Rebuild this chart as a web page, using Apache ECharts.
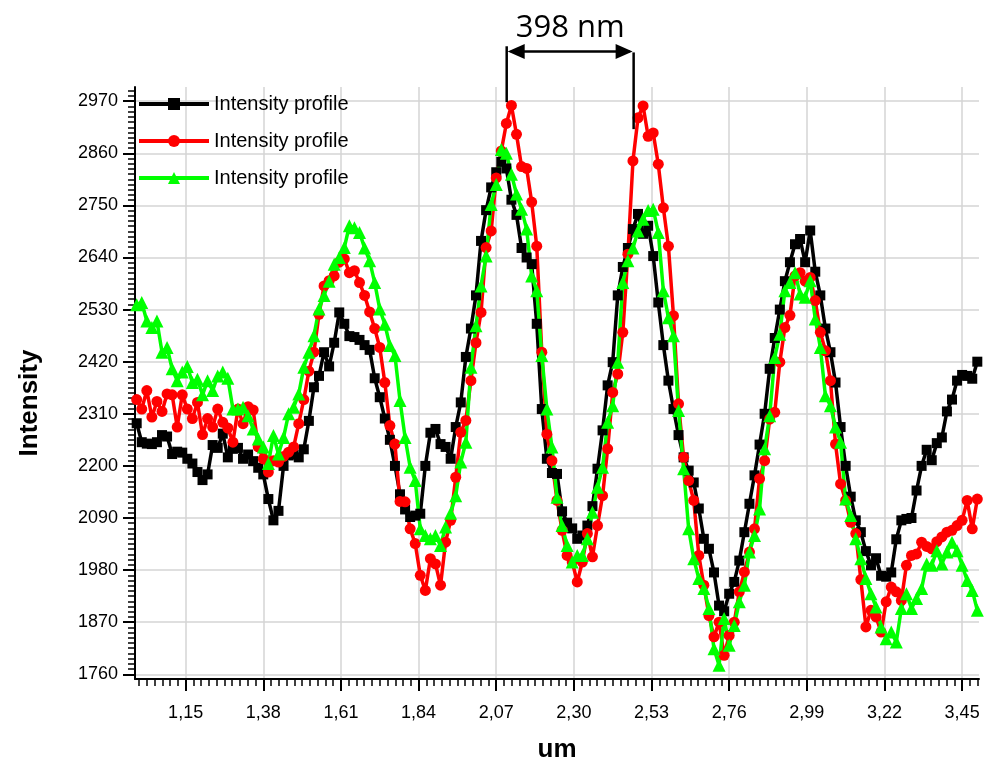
<!DOCTYPE html>
<html>
<head>
<meta charset="utf-8">
<script src="https://cdn.jsdelivr.net/npm/echarts@6/dist/echarts.min.js"></script>
<style>
html, body { margin: 0; padding: 0; background: #fff; }
#profile-chart-box { width: 988px; height: 766px; }
</style>
</head>
<body>
<div id="profile-chart-box"></div>
<script>
// profile sampling (um): one sample every xStep from xStart
var xStart = 1.005;
var xStep = 0.015;

var blackY = [2290, 2250, 2247, 2246, 2250, 2265, 2262, 2225, 2230, 2228,
    2215, 2205, 2187, 2170, 2182, 2244, 2238, 2268, 2218, 2236,
    2238, 2215, 2224, 2210, 2196, 2182, 2130, 2085, 2105, 2200,
    2222, 2224, 2218, 2235, 2295, 2366, 2390, 2440, 2410, 2460,
    2524, 2500, 2474, 2472, 2466, 2455, 2445, 2385, 2345, 2300,
    2255, 2200, 2140, 2108, 2092, 2095, 2099, 2200, 2270, 2278,
    2246, 2240, 2215, 2282, 2334, 2430, 2490, 2560, 2675, 2740,
    2788, 2820, 2842, 2828, 2762, 2730, 2660, 2640, 2626, 2500,
    2320, 2215, 2185, 2183, 2104, 2080, 2068, 2046, 2053, 2074,
    2115, 2194, 2275, 2370, 2419, 2560, 2620, 2660, 2700, 2732,
    2690, 2707, 2643, 2545, 2455, 2380, 2320, 2265, 2218, 2190,
    2165, 2110, 2046, 2025, 1975, 1905, 1893, 1930, 1955, 2000,
    2060, 2120, 2180, 2245, 2310, 2405, 2470, 2530, 2590, 2630,
    2668, 2679, 2630, 2697, 2610, 2560, 2490, 2440, 2376, 2282,
    2200, 2135, 2085, 2060, 2020, 1990, 2005, 1968, 1966, 1975,
    2045, 2085, 2088, 2090, 2148, 2200, 2234, 2212, 2248, 2260,
    2315, 2340, 2380, 2392, 2390, 2384, 2420];

var redY = [2340, 2320, 2359, 2303, 2336, 2315, 2352, 2350, 2282, 2350,
    2320, 2300, 2334, 2266, 2300, 2282, 2320, 2292, 2280, 2250,
    2320, 2289, 2325, 2318, 2240, 2215, 2187, 2211, 2208, 2220,
    2229, 2240, 2289, 2340, 2400, 2440, 2520, 2580, 2591, 2601,
    2630, 2637, 2608, 2612, 2587, 2560, 2525, 2490, 2450, 2376,
    2285, 2246, 2125, 2124, 2067, 2036, 1969, 1937, 2004, 1993,
    1948, 2039, 2085, 2176, 2271, 2296, 2380, 2460, 2524, 2661,
    2696, 2808, 2865, 2923, 2961, 2900, 2832, 2828, 2757, 2664,
    2440, 2267, 2211, 2127, 2064, 2011, 1997, 1955, 1997, 2057,
    2008, 2074, 2137, 2236, 2355, 2394, 2482, 2647, 2844, 2935,
    2960, 2896, 2903, 2837, 2745, 2664, 2517, 2331, 2218, 2169,
    2127, 2011, 1948, 1884, 1839, 1870, 1800, 1842, 1870, 1934,
    1976, 2018, 2067, 2173, 2211, 2299, 2313, 2419, 2492, 2518,
    2601, 2608, 2590, 2598, 2549, 2482, 2443, 2380, 2246, 2162,
    2127, 2081, 2057, 1960, 1860, 1895, 1881, 1849, 1913, 1944,
    1934, 1916, 1990, 2011, 2014, 2039, 2030, 2025, 2040, 2050,
    2060, 2064, 2074, 2085, 2127, 2067, 2130];

var greenY = [2540, 2545, 2506, 2492, 2506, 2440, 2450, 2405, 2380, 2398,
    2410, 2376, 2383, 2350, 2380, 2359, 2390, 2398, 2385, 2320,
    2320, 2324, 2306, 2278, 2257, 2240, 2205, 2264, 2225, 2260,
    2310, 2324, 2352, 2408, 2440, 2475, 2531, 2560, 2590, 2626,
    2640, 2661, 2707, 2703, 2693, 2660, 2633, 2587, 2531, 2499,
    2454, 2433, 2338, 2260, 2197, 2169, 2067, 2053, 2046, 2053,
    2032, 2071, 2100, 2137, 2208, 2250, 2408, 2496, 2580, 2643,
    2752, 2794, 2868, 2860, 2816, 2774, 2742, 2700, 2601, 2570,
    2433, 2320, 2240, 2134, 2074, 2032, 1997, 2011, 2011, 2046,
    2102, 2155, 2197, 2292, 2327, 2419, 2587, 2633, 2660, 2696,
    2721, 2739, 2742, 2693, 2570, 2513, 2475, 2317, 2194, 2067,
    2004, 1962, 1941, 1899, 1814, 1779, 1878, 1821, 1863, 1913,
    1948, 2018, 2053, 2109, 2236, 2306, 2429, 2478, 2570, 2587,
    2608, 2563, 2556, 2591, 2510, 2450, 2348, 2327, 2282, 2250,
    2130, 2095, 2046, 2004, 1962, 1930, 1902, 1860, 1835, 1849,
    1828, 1899, 1930, 1899, 1920, 1941, 1993, 1990, 2021, 1993,
    2018, 2039, 2021, 1990, 1958, 1937, 1895];

// three series, all labelled the same in the legend
var seriesKeys = ['black', 'red', 'green'];
var legendLabel = 'Intensity profile';
var xTicks = [1.15, 1.38, 1.61, 1.84, 2.07, 2.30, 2.53, 2.76, 2.99, 3.22, 3.45];
var yTicks = [1760, 1870, 1980, 2090, 2200, 2310, 2420, 2530, 2640, 2750, 2860, 2970];

// spacing marker between the two main peaks
var peakX = [2.101, 2.477];
var peakBarBottom = [2968, 2911];
var peakBarTop = [3086, 3073];
var arrowY = 3075;
var spanText = '398 nm';
var spanTextY = 3124;

function pairs(ys) {
    return ys.map(function(v, i) {
        return [+(xStart + i * xStep).toFixed(3), v];
    });
}

// minor ticks: 10 per major step
var xMinor = [];
for (var k = -6; k <= 104; k++) {
    var mv = +(1.15 + k * 0.023).toFixed(3);
    if (mv > 1.0 && mv < 3.5) xMinor.push(mv);
}
var yMinor = [];
for (var j = 0; j <= 112; j++) {
    yMinor.push(1760 + j * 11);
}

var labelFont = 'Liberation Sans';
var gridColor = '#d4d4d4';

function mkSeries(name, ys, color, symbol, size) {
    return {
        name: name,
        type: 'line',
        data: pairs(ys),
        symbol: symbol,
        symbolSize: size,
        showSymbol: true,
        showAllSymbol: true,
        color: color,
        itemStyle: { color: color },
        lineStyle: { color: color, width: 3.5 },
        emphasis: { disabled: true }
    };
}

var chart = echarts.init(document.getElementById('profile-chart-box'));
var option = {
    animation: false,
    backgroundColor: '#fff',
    grid: {
        left: 135,
        right: 9,
        top: 87,
        bottom: 87,
        outerBoundsMode: 'none'
    },
    legend: {
        show: true,
        orient: 'vertical',
        left: 132,
        top: 89,
        itemWidth: 70,
        itemHeight: 15,
        itemGap: 17,
        lineStyle: { width: 4 },
        textStyle: { fontSize: 20, color: '#000', fontFamily: labelFont },
        formatter: function() {
            return legendLabel;
        },
        data: seriesKeys
    },
    xAxis: [{
        type: 'value',
        min: 1.0,
        max: 3.5,
        position: 'bottom',
        name: 'um',
        nameLocation: 'middle',
        nameGap: 58,
        nameMoveOverlap: false,
        nameTextStyle: { fontSize: 26, fontWeight: 'bold', color: '#000', fontFamily: labelFont },
        axisLine: { show: true, onZero: false, lineStyle: { color: '#000', width: 2 } },
        axisTick: { show: true, length: 12, customValues: xTicks, lineStyle: { color: '#000', width: 2 } },
        axisLabel: {
            customValues: xTicks,
            margin: 25,
            fontSize: 18,
            color: '#000',
            fontFamily: labelFont,
            formatter: function(v) {
                return v.toFixed(2).replace('.', ',');
            }
        },
        splitLine: { show: true, lineStyle: { color: gridColor, width: 1.5 } }
    }, {
        type: 'value',
        min: 1.0,
        max: 3.5,
        position: 'bottom',
        axisLine: { show: false, onZero: false },
        axisTick: { show: true, length: 7, customValues: xMinor, lineStyle: { color: '#000', width: 1.5 } },
        axisLabel: { show: false },
        splitLine: { show: false }
    }],
    yAxis: [{
        type: 'value',
        min: 1750,
        max: 3000,
        position: 'left',
        name: 'Intensity',
        nameLocation: 'middle',
        nameGap: 92,
        nameMoveOverlap: false,
        nameTextStyle: { fontSize: 26, fontWeight: 'bold', color: '#000', fontFamily: labelFont, padding: [0, 40, 0, 0] },
        axisLine: { show: true, onZero: false, lineStyle: { color: '#000', width: 2 } },
        axisTick: { show: true, length: 12, customValues: yTicks, lineStyle: { color: '#000', width: 2 } },
        axisLabel: {
            customValues: yTicks,
            margin: 17,
            fontSize: 18,
            color: '#000',
            fontFamily: labelFont,
            formatter: function(v) {
                return String(v);
            }
        },
        splitLine: { show: true, lineStyle: { color: gridColor, width: 1.5 } }
    }, {
        type: 'value',
        min: 1750,
        max: 3000,
        position: 'left',
        axisLine: { show: false, onZero: false },
        axisTick: { show: true, length: 7, customValues: yMinor, lineStyle: { color: '#000', width: 1.5 } },
        axisLabel: { show: false },
        splitLine: { show: false }
    }],
    series: [
        mkSeries(seriesKeys[0], blackY, '#000000', 'rect', 10),
        mkSeries(seriesKeys[1], redY, '#ff0000', 'circle', 11),
        mkSeries(seriesKeys[2], greenY, '#00ff00', 'triangle', 13)
    ]
};
chart.setOption(option);

function drawMarker() {
    var toPx = function(x, y) {
        return chart.convertToPixel({ gridIndex: 0 }, [x, y]);
    };
    var l0 = toPx(peakX[0], peakBarTop[0]);
    var l1 = toPx(peakX[0], peakBarBottom[0]);
    var r0 = toPx(peakX[1], peakBarTop[1]);
    var r1 = toPx(peakX[1], peakBarBottom[1]);
    var a0 = toPx(peakX[0], arrowY);
    var a1 = toPx(peakX[1], arrowY);
    var t = toPx((peakX[0] + peakX[1]) / 2, spanTextY);
    var headLen = 18, headHalf = 7.5;
    chart.setOption({
        graphic: [
            { type: 'line', shape: { x1: l0[0], y1: l0[1], x2: l1[0], y2: l1[1] }, style: { stroke: '#000', lineWidth: 2.5 }, z: 100 },
            { type: 'line', shape: { x1: r0[0], y1: r0[1], x2: r1[0], y2: r1[1] }, style: { stroke: '#000', lineWidth: 2.5 }, z: 100 },
            { type: 'line', shape: { x1: a0[0] + 4, y1: a0[1], x2: a1[0] - 4, y2: a1[1] }, style: { stroke: '#000', lineWidth: 2.5 }, z: 100 },
            { type: 'polygon', shape: { points: [[a0[0] + 1, a0[1]], [a0[0] + headLen, a0[1] - headHalf], [a0[0] + headLen, a0[1] + headHalf]] }, style: { fill: '#000' }, z: 100 },
            { type: 'polygon', shape: { points: [[a1[0] - 1, a1[1]], [a1[0] - headLen, a1[1] - headHalf], [a1[0] - headLen, a1[1] + headHalf]] }, style: { fill: '#000' }, z: 100 },
            { type: 'text', x: t[0], y: t[1], style: { text: spanText, fill: '#000', fontSize: 31, fontFamily: 'Open Sans', align: 'center', verticalAlign: 'middle' }, z: 100 }
        ]
    });
}
drawMarker();
</script>
</body>
</html>
